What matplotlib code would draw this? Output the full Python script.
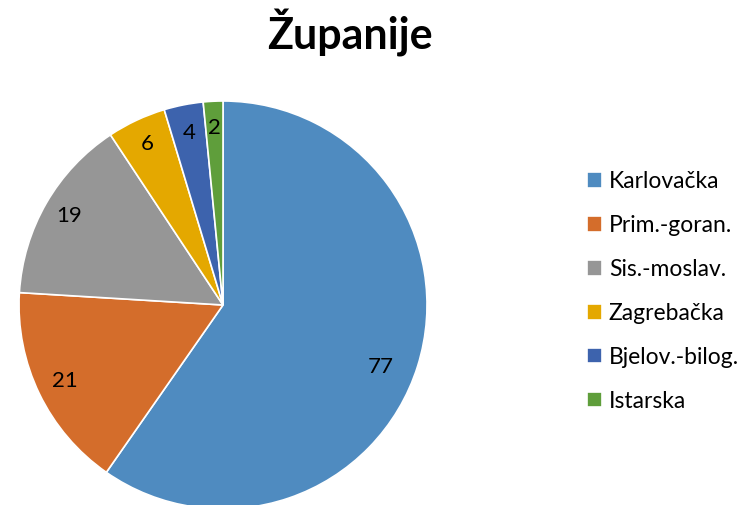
import matplotlib.pyplot as plt
import numpy as np

# === Data ===
zupanije = ["Karlovačka", "Prim.-goran.", "Sis.-moslav.", "Zagrebačka", "Bjelov.-bilog.", "Istarska"]
vrijednosti = [77, 21, 19, 6, 4, 2]
boje = ["#4F8BC0", "#D46D2B", "#969696", "#E4A800", "#3D63AD", "#5F9E3B"]
# radial position of each data label (fraction of radius) and small angle tweak (deg)
label_dist = [0.83, 0.86, 0.87, 0.87, 0.86, 0.87]
label_rot = [-4, 0, 0, 0, 0, 0]

plt.rcParams['font.family'] = ['Lato', 'DejaVu Sans']

fig = plt.figure(figsize=(7.51, 5.05), dpi=100)
ax = fig.add_axes([0.0253, -0.0079, 0.5433, 0.8079])

wedges, _ = ax.pie(vrijednosti, colors=boje, startangle=90, counterclock=False,
                   wedgeprops=dict(edgecolor="white", linewidth=1.2))
ax.set_aspect("equal")
ax.set_xlim(-1, 1)
ax.set_ylim(-1, 1)

for w, v, d, r in zip(wedges, vrijednosti, label_dist, label_rot):
    ang = np.deg2rad((w.theta1 + w.theta2) / 2 + r)
    ax.text(d * np.cos(ang), d * np.sin(ang), str(v), ha="center", va="center",
            fontsize=16, color="black")

fig.text(0.466, 0.901, "Županije", ha="center", va="baseline", fontsize=31, fontweight="bold")

fig.legend(wedges, zupanije, loc="center left", bbox_to_anchor=(0.754, 0.423),
           frameon=False, fontsize=16.5, handlelength=0.66, handleheight=0.66,
           handletextpad=0.3, labelspacing=1.0)

fig.savefig("out.png", dpi=100)
